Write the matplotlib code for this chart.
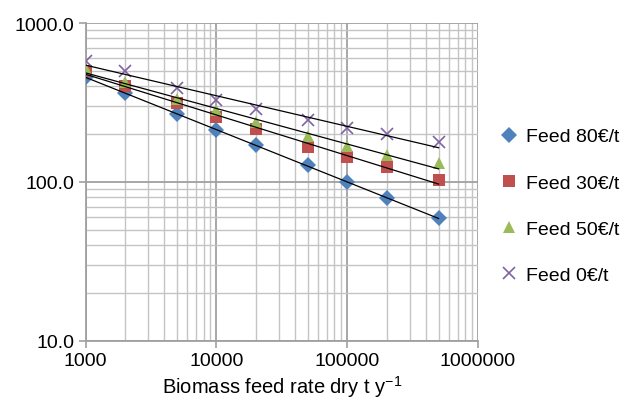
import numpy as np
import matplotlib
matplotlib.use('Agg')
import matplotlib.pyplot as plt
from matplotlib.ticker import FixedLocator, FixedFormatter, LogLocator, NullFormatter

plt.rcParams['font.family'] = ['Liberation Sans', 'DejaVu Sans']

feed_rate = [1000, 2000, 5000, 10000, 20000, 50000, 100000, 200000, 500000]
feed_80 = [456, 361, 268, 213, 171, 127, 100, 79, 59]
feed_30 = [501, 403, 314, 255, 215, 167, 144, 124, 103]
feed_50 = [513, 424, 333, 285, 237, 194, 169, 148, 131]
feed_0 = [580, 497, 388, 330, 288, 245, 218, 200, 178]

series = [
    ("Feed 80\u20ac/t", feed_80, 'D', '#4F81BD', 8),
    ("Feed 30\u20ac/t", feed_30, 's', '#C0504D', 9),
    ("Feed 50\u20ac/t", feed_50, '^', '#9BBB59', 9),
    ("Feed 0\u20ac/t", feed_0, 'x', '#8064A2', 9),
]

fig = plt.figure(figsize=(6.31, 4.14), dpi=100)
ax = fig.add_axes([0.1355, 0.174, 0.622, 0.768])
ax.set_xscale('log')
ax.set_yscale('log')
ax.set_xlim(1000, 1000000)
ax.set_ylim(10, 1000)

x = np.array(feed_rate, dtype=float)
for label, vals, mk, col, ms in series:
    y = np.array(vals, dtype=float)
    if mk == 'x':
        ax.plot(x, y, linestyle='none', marker=mk, color=col, markersize=ms,
                markeredgewidth=1.2, label=label, zorder=3)
    else:
        ax.plot(x, y, linestyle='none', marker=mk, color=col, markersize=ms,
                markeredgewidth=0, label=label, zorder=3)
# power-law trendlines
for label, vals, mk, col, ms in series:
    y = np.array(vals, dtype=float)
    b, a = np.polyfit(np.log10(x), np.log10(y), 1)
    xf = np.array([x[0], x[-1]])
    ax.plot(xf, 10 ** (a + b * np.log10(xf)), color='black', lw=0.9, zorder=4)

ax.xaxis.set_major_locator(FixedLocator([1000, 10000, 100000, 1000000]))
ax.xaxis.set_major_formatter(FixedFormatter(['1000', '10000', '100000', '1000000']))
ax.yaxis.set_major_locator(FixedLocator([10, 100, 1000]))
ax.yaxis.set_major_formatter(FixedFormatter(['10.0', '100.0', '1000.0']))
ax.xaxis.set_minor_locator(LogLocator(base=10, subs=np.arange(2, 10)))
ax.yaxis.set_minor_locator(LogLocator(base=10, subs=np.arange(2, 10)))
ax.xaxis.set_minor_formatter(NullFormatter())
ax.yaxis.set_minor_formatter(NullFormatter())

ax.grid(True, which='major', color='#a0a0a0', lw=1.3)
ax.grid(True, which='minor', color='#c4c4c4', lw=1.0)
ax.set_axisbelow(True)

for s in ['top', 'right']:
    ax.spines[s].set_visible(False)
for s in ['left', 'bottom']:
    ax.spines[s].set_color('#a0a0a0')
    ax.spines[s].set_linewidth(1.3)
ax.tick_params(which='major', direction='out', length=5, color='#a0a0a0',
               width=1.2, labelsize=14, pad=3)
ax.tick_params(which='minor', length=0)

ax.set_xlabel('Biomass feed rate dry t y$^{\\mathregular{-1}}$', fontsize=14.5, labelpad=3)

ax.legend(loc='center left', bbox_to_anchor=(1.01, 0.425), frameon=False,
          fontsize=14, handlelength=1.0, handletextpad=0.35, labelspacing=1.47)

fig.savefig('out.png', dpi=100)
